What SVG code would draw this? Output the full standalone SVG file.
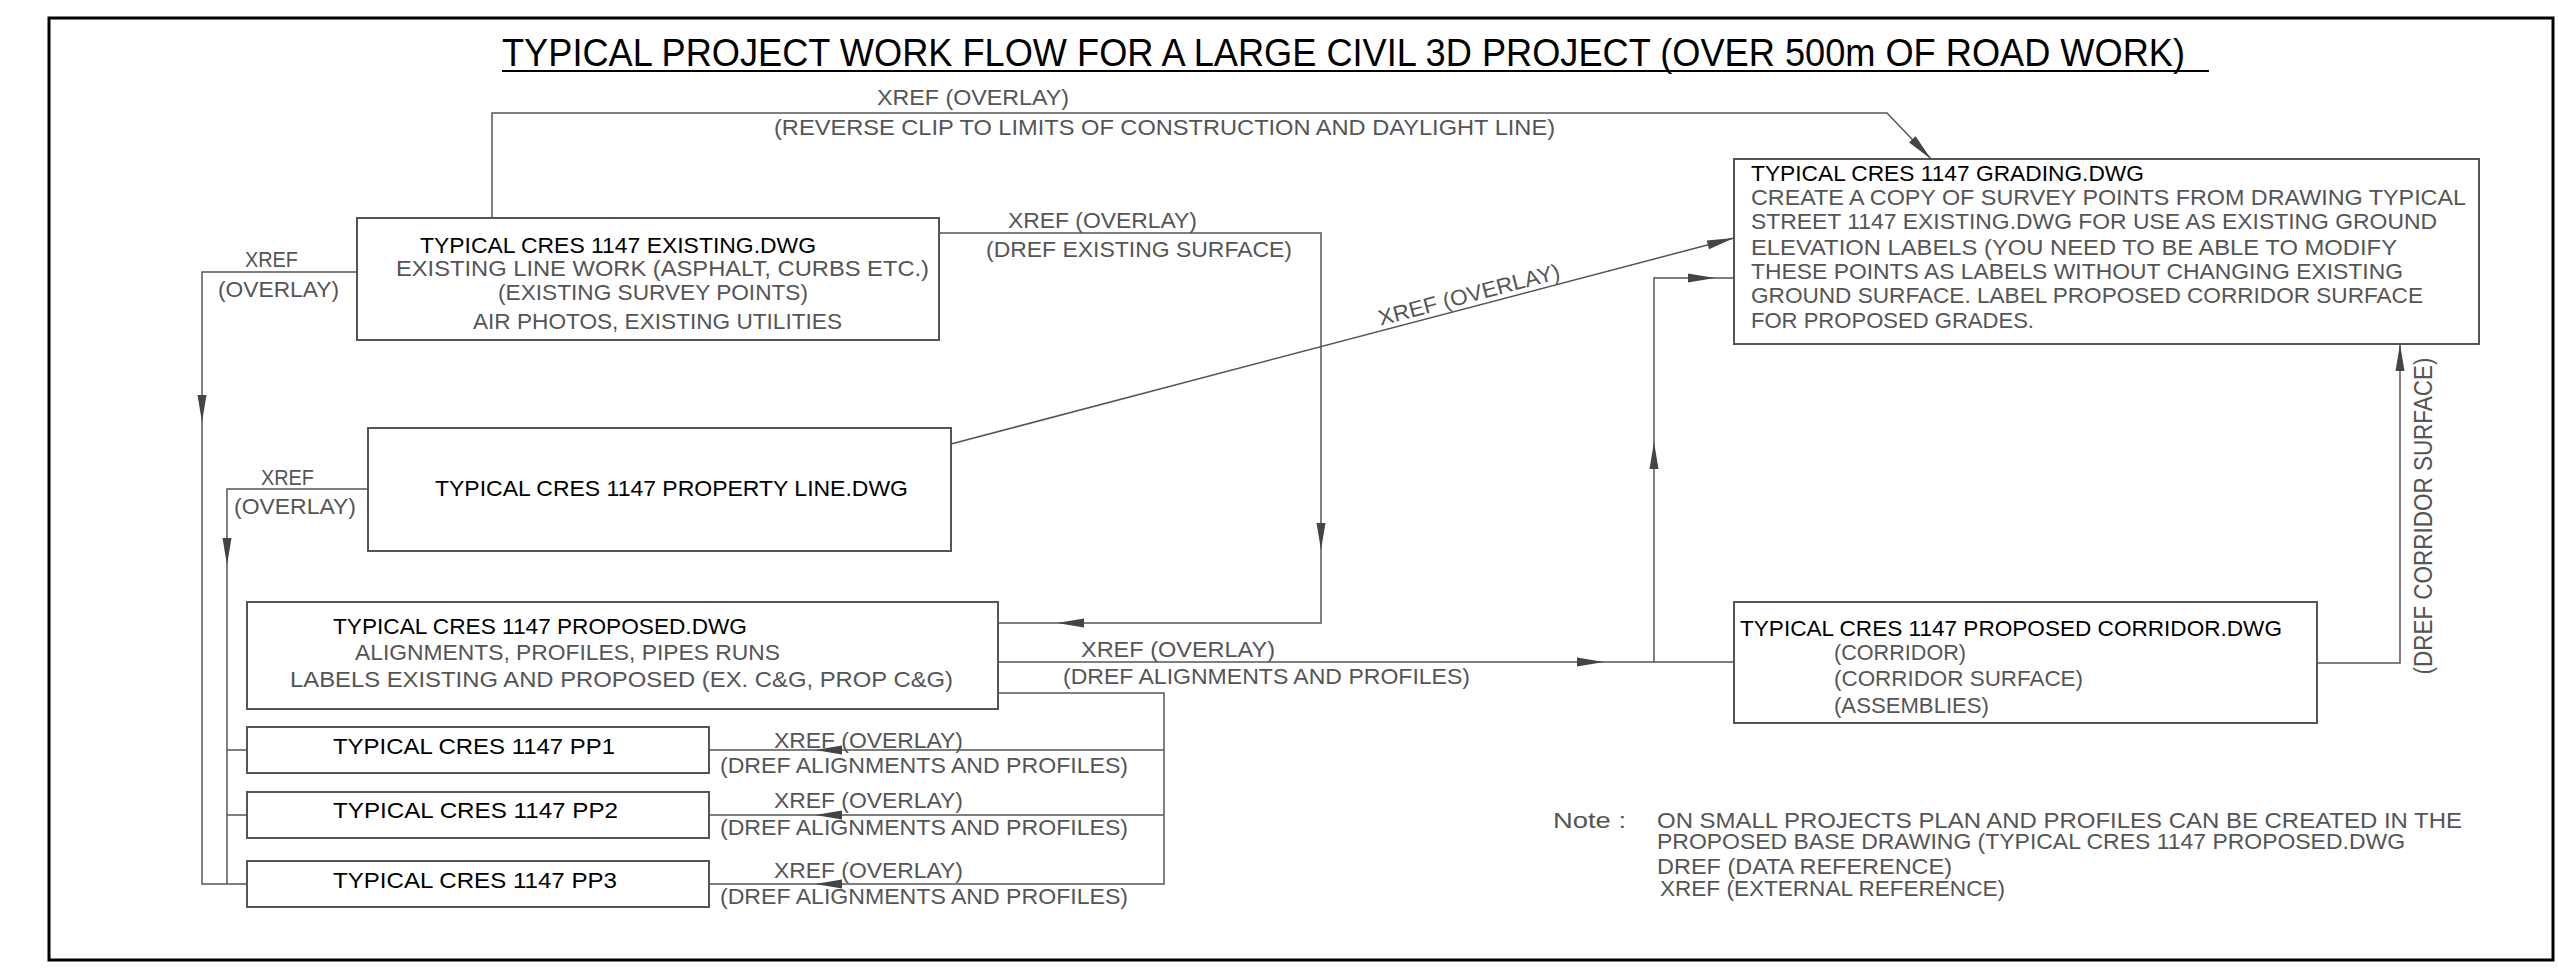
<svg xmlns="http://www.w3.org/2000/svg" xmlns:xlink="http://www.w3.org/1999/xlink" width="2558" height="968" viewBox="0 0 2558 968">
<style>
text { font-family: "Liberation Sans", Arial, sans-serif; font-size: 22px; fill: #555; }
.h { fill: #000; }
.ttl { font-size: 39px; fill: #000; }
.box { fill: #fff; stroke: #555; stroke-width: 2; }
.ln { fill: none; stroke: #555; stroke-width: 1.5; }
.ah { fill: #444; }
</style>
<defs>
<path id="ah" class="ah" d="M0,0 L-27,-4.5 L-27,4.5 Z"/>
</defs>
<rect x="0" y="0" width="2558" height="968" fill="#fff"/>
<rect x="49" y="18" width="2504" height="942" fill="none" stroke="#000" stroke-width="3"/>

<g id="title">
<text class="ttl" x="502" y="66" textLength="1683" lengthAdjust="spacingAndGlyphs">TYPICAL PROJECT WORK FLOW FOR A LARGE CIVIL 3D PROJECT (OVER 500m OF ROAD WORK)</text>
<line x1="502" y1="71" x2="2209" y2="71" stroke="#000" stroke-width="2"/>
</g>

<g id="connectors">
<path class="ln" d="M492,218 V113 H1887 L1931,159"/>
<use xlink:href="#ah" transform="translate(1931,159) rotate(46.3)"/>
<path class="ln" d="M939,233 H1321 V623 H998"/>
<use xlink:href="#ah" transform="translate(1321,550) rotate(90)"/>
<use xlink:href="#ah" transform="translate(1057,623) rotate(180)"/>
<path class="ln" d="M357,272 H202 V884 H247"/>
<use xlink:href="#ah" transform="translate(202,422) rotate(90)"/>
<path class="ln" d="M368,489 H227 V884 M227,750 H247 M227,815 H247"/>
<use xlink:href="#ah" transform="translate(227,565) rotate(90)"/>
<path class="ln" d="M951,444 L1734,238"/>
<use xlink:href="#ah" transform="translate(1734,238) rotate(-14.74)"/>
<path class="ln" d="M998,662 H1734"/>
<use xlink:href="#ah" transform="translate(1604,662)"/>
<path class="ln" d="M1654,662 V278 H1734"/>
<use xlink:href="#ah" transform="translate(1654,442) rotate(-90)"/>
<use xlink:href="#ah" transform="translate(1715,278)"/>
<path class="ln" d="M2317,663 H2400 V344"/>
<use xlink:href="#ah" transform="translate(2400,344) rotate(-90)"/>
<path class="ln" d="M998,693 H1164 V884 H709 M1164,750 H709 M1164,815 H709"/>
<use xlink:href="#ah" transform="translate(815,750) rotate(180)"/>
<use xlink:href="#ah" transform="translate(815,815) rotate(180)"/>
<use xlink:href="#ah" transform="translate(815,884) rotate(180)"/>

<text x="877" y="105" textLength="192" lengthAdjust="spacingAndGlyphs">XREF (OVERLAY)</text>
<text x="774" y="135" textLength="781" lengthAdjust="spacingAndGlyphs">(REVERSE CLIP TO LIMITS OF CONSTRUCTION AND DAYLIGHT LINE)</text>
<text x="1008" y="228" textLength="189" lengthAdjust="spacingAndGlyphs">XREF (OVERLAY)</text>
<text x="986" y="257" textLength="306" lengthAdjust="spacingAndGlyphs">(DREF EXISTING SURFACE)</text>
<text x="245" y="267" textLength="53" lengthAdjust="spacingAndGlyphs">XREF</text>
<text x="218" y="297" textLength="121" lengthAdjust="spacingAndGlyphs">(OVERLAY)</text>
<text x="261" y="485" textLength="53" lengthAdjust="spacingAndGlyphs">XREF</text>
<text x="234" y="514" textLength="122" lengthAdjust="spacingAndGlyphs">(OVERLAY)</text>
<text transform="translate(1471,302) rotate(-14.74)" text-anchor="middle" textLength="187" lengthAdjust="spacingAndGlyphs">XREF (OVERLAY)</text>
<text x="1081" y="657" textLength="194" lengthAdjust="spacingAndGlyphs">XREF (OVERLAY)</text>
<text x="1063" y="684" textLength="407" lengthAdjust="spacingAndGlyphs">(DREF ALIGNMENTS AND PROFILES)</text>
<text x="774" y="748" textLength="189" lengthAdjust="spacingAndGlyphs">XREF (OVERLAY)</text>
<text x="720" y="773" textLength="408" lengthAdjust="spacingAndGlyphs">(DREF ALIGNMENTS AND PROFILES)</text>
<text x="774" y="808" textLength="189" lengthAdjust="spacingAndGlyphs">XREF (OVERLAY)</text>
<text x="720" y="835" textLength="408" lengthAdjust="spacingAndGlyphs">(DREF ALIGNMENTS AND PROFILES)</text>
<text x="774" y="878" textLength="189" lengthAdjust="spacingAndGlyphs">XREF (OVERLAY)</text>
<text x="720" y="904" textLength="408" lengthAdjust="spacingAndGlyphs">(DREF ALIGNMENTS AND PROFILES)</text>
<text transform="translate(2432,516) rotate(-90)" text-anchor="middle" style="font-size:25px" textLength="317" lengthAdjust="spacingAndGlyphs">(DREF CORRIDOR SURFACE)</text>
</g>

<g id="existing">
<rect class="box" x="357" y="218" width="582" height="122"/>
<text class="h" x="420" y="253" textLength="396" lengthAdjust="spacingAndGlyphs">TYPICAL CRES 1147 EXISTING.DWG</text>
<text x="396" y="276" textLength="533" lengthAdjust="spacingAndGlyphs">EXISTING LINE WORK (ASPHALT, CURBS ETC.)</text>
<text x="498" y="300" textLength="310" lengthAdjust="spacingAndGlyphs">(EXISTING SURVEY POINTS)</text>
<text x="473" y="329" textLength="369" lengthAdjust="spacingAndGlyphs">AIR PHOTOS, EXISTING UTILITIES</text>
</g>

<g id="property">
<rect class="box" x="368" y="428" width="583" height="123"/>
<text class="h" x="435" y="496" textLength="473" lengthAdjust="spacingAndGlyphs">TYPICAL CRES 1147 PROPERTY LINE.DWG</text>
</g>

<g id="proposed">
<rect class="box" x="247" y="602" width="751" height="107"/>
<text class="h" x="333" y="634" textLength="414" lengthAdjust="spacingAndGlyphs">TYPICAL CRES 1147 PROPOSED.DWG</text>
<text x="355" y="660" textLength="425" lengthAdjust="spacingAndGlyphs">ALIGNMENTS, PROFILES, PIPES RUNS</text>
<text x="290" y="687" textLength="663" lengthAdjust="spacingAndGlyphs">LABELS EXISTING AND PROPOSED (EX. C&amp;G, PROP C&amp;G)</text>
</g>

<g id="pp1">
<rect class="box" x="247" y="727" width="462" height="46"/>
<text class="h" x="333" y="754" textLength="282" lengthAdjust="spacingAndGlyphs">TYPICAL CRES 1147 PP1</text>
</g>
<g id="pp2">
<rect class="box" x="247" y="792" width="462" height="46"/>
<text class="h" x="333" y="818" textLength="285" lengthAdjust="spacingAndGlyphs">TYPICAL CRES 1147 PP2</text>
</g>
<g id="pp3">
<rect class="box" x="247" y="861" width="462" height="46"/>
<text class="h" x="333" y="888" textLength="284" lengthAdjust="spacingAndGlyphs">TYPICAL CRES 1147 PP3</text>
</g>

<g id="grading">
<rect class="box" x="1734" y="159" width="745" height="185"/>
<text class="h" x="1751" y="181" textLength="393" lengthAdjust="spacingAndGlyphs">TYPICAL CRES 1147 GRADING.DWG</text>
<text x="1751" y="205" textLength="715" lengthAdjust="spacingAndGlyphs">CREATE A COPY OF SURVEY POINTS FROM DRAWING TYPICAL</text>
<text x="1751" y="229" textLength="686" lengthAdjust="spacingAndGlyphs">STREET 1147 EXISTING.DWG FOR USE AS EXISTING GROUND</text>
<text x="1751" y="255" textLength="646" lengthAdjust="spacingAndGlyphs">ELEVATION LABELS (YOU NEED TO BE ABLE TO MODIFY</text>
<text x="1751" y="279" textLength="652" lengthAdjust="spacingAndGlyphs">THESE POINTS AS LABELS WITHOUT CHANGING EXISTING</text>
<text x="1751" y="303" textLength="672" lengthAdjust="spacingAndGlyphs">GROUND SURFACE. LABEL PROPOSED CORRIDOR SURFACE</text>
<text x="1751" y="328" textLength="283" lengthAdjust="spacingAndGlyphs">FOR PROPOSED GRADES.</text>
</g>

<g id="corridor">
<rect class="box" x="1734" y="602" width="583" height="121"/>
<text class="h" x="1740" y="636" textLength="542" lengthAdjust="spacingAndGlyphs">TYPICAL CRES 1147 PROPOSED CORRIDOR.DWG</text>
<text x="1834" y="660" textLength="132" lengthAdjust="spacingAndGlyphs">(CORRIDOR)</text>
<text x="1834" y="686" textLength="249" lengthAdjust="spacingAndGlyphs">(CORRIDOR SURFACE)</text>
<text x="1834" y="713" textLength="155" lengthAdjust="spacingAndGlyphs">(ASSEMBLIES)</text>
</g>

<g id="note">
<text x="1553" y="828" textLength="73" lengthAdjust="spacingAndGlyphs">Note :</text>
<text x="1657" y="828" textLength="805" lengthAdjust="spacingAndGlyphs">ON SMALL PROJECTS PLAN AND PROFILES CAN BE CREATED IN THE</text>
<text x="1657" y="849" textLength="748" lengthAdjust="spacingAndGlyphs">PROPOSED BASE DRAWING (TYPICAL CRES 1147 PROPOSED.DWG</text>
<text x="1657" y="874" textLength="295" lengthAdjust="spacingAndGlyphs">DREF (DATA REFERENCE)</text>
<text x="1660" y="896" textLength="345" lengthAdjust="spacingAndGlyphs">XREF (EXTERNAL REFERENCE)</text>
</g>
</svg>
